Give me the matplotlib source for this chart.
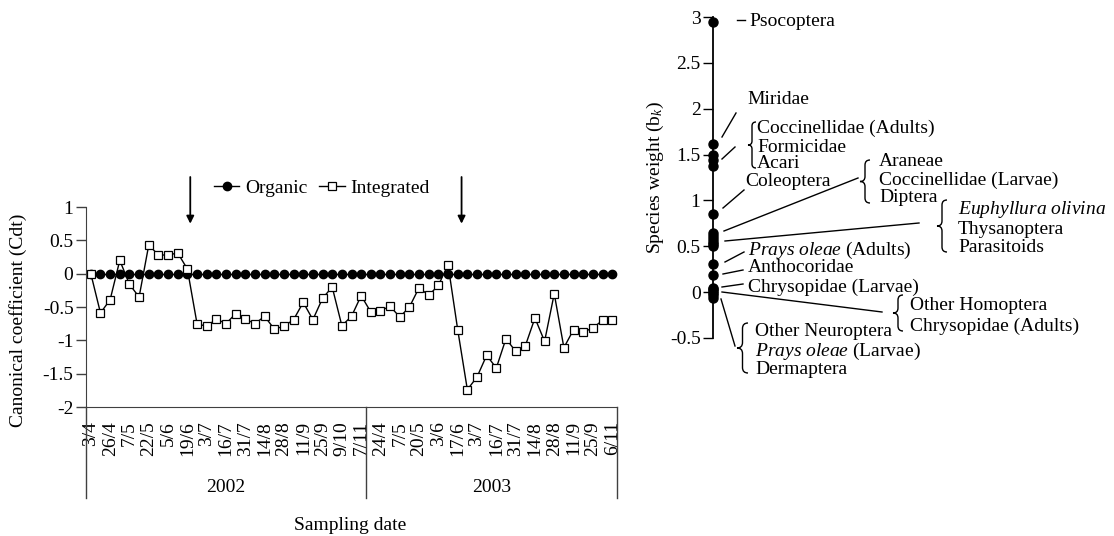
import numpy as np
import matplotlib
matplotlib.use("Agg")
import matplotlib.pyplot as plt
from matplotlib.path import Path
from matplotlib.patches import PathPatch

plt.rcParams["font.family"] = "Liberation Serif"
plt.rcParams["mathtext.fontset"] = "custom"
plt.rcParams["mathtext.rm"] = "Liberation Serif"
plt.rcParams["mathtext.it"] = "Liberation Serif:italic"
plt.rcParams["font.size"] = 14
plt.rcParams["axes.unicode_minus"] = False

# sampling dates printed on the axis (every second sample)
labels_2002 = ["3/4", "26/4", "7/5", "22/5", "5/6", "19/6", "3/7", "16/7", "31/7",
               "14/8", "28/8", "11/9", "25/9", "9/10", "7/11"]
labels_2003 = ["24/4", "7/5", "20/5", "3/6", "17/6", "3/7", "16/7", "31/7", "14/8",
               "28/8", "11/9", "25/9", "6/11"]
years = ["2002", "2003"]
n_2002 = 29
n_2003 = 26

integrated_2002 = [0.0, -0.59, -0.39, 0.20, -0.16, -0.35, 0.43, 0.28, 0.28, 0.31,
                   0.07, -0.75, -0.79, -0.68, -0.75, -0.60, -0.68, -0.75, -0.64, -0.83,
                   -0.79, -0.69, -0.43, -0.69, -0.37, -0.20, -0.78, -0.64, -0.33]
integrated_2003 = [-0.575, -0.555, -0.49, -0.65, -0.50, -0.21, -0.325, -0.175, 0.135, -0.84,
                   -1.74, -1.55, -1.225, -1.415, -0.975, -1.165, -1.085, -0.665, -1.015, -0.30,
                   -1.11, -0.84, -0.875, -0.815, -0.70, -0.69]
integrated = integrated_2002 + integrated_2003
organic = [0.0] * (n_2002 + n_2003)

# sample positions marked with an arrow
arrow_at = [10.3, 38.4]

# species weights b_k
species = ["Psocoptera", "Miridae", "Coccinellidae (Adults)", "Formicidae", "Acari",
           "Coleoptera", "Araneae", "Coccinellidae (Larvae)", "Diptera",
           "Euphyllura olivina", "Thysanoptera", "Parasitoids", "Prays oleae (Adults)",
           "Anthocoridae", "Chrysopidae (Larvae)", "Other Homoptera",
           "Chrysopidae (Adults)", "Other Neuroptera", "Prays oleae (Larvae)", "Dermaptera"]
weights = [2.95, 1.62, 1.49, 1.44, 1.37, 0.85, 0.64, 0.61, 0.58, 0.55, 0.53, 0.50,
           0.31, 0.19, 0.05, 0.03, 0.01, -0.01, -0.03, -0.06]

W, H = 1114, 536
fig = plt.figure(figsize=(W / 100, H / 100), dpi=100)
axis_col = "#404040"

# ---- left panel: canonical coefficients ----
ax = fig.add_axes([86 / W, 1 - 407 / H, 531 / W, 200 / H])
x = np.arange(n_2002 + n_2003)
ax.plot(x, organic, "-o", color="black", lw=1, ms=6, label="Organic")
ax.plot(x, integrated, "-s", color="black", lw=1, ms=5.5, mfc="white", mew=0.9,
        label="Integrated")
ax.set_xlim(-0.5, n_2002 + n_2003 - 0.5)
ax.set_ylim(-2, 1)
ax.set_yticks(np.arange(-2, 1.01, 0.5))
ax.set_yticklabels([f"{v:g}" for v in np.arange(-2, 1.01, 0.5)])
ax.set_xticks(x[::2])
ax.set_xticklabels(labels_2002 + labels_2003, rotation=90)
ax.tick_params(axis="x", length=0, pad=10)
ax.tick_params(axis="y", length=7, width=1, color=axis_col, pad=2)
for s in ["top", "right"]:
    ax.spines[s].set_visible(False)
for s in ["left", "bottom"]:
    ax.spines[s].set_color(axis_col)

# year group dividers below the axis
for xd in [-0.5, n_2002 - 0.5, n_2002 + n_2003 - 0.5]:
    ax.plot([xd, xd], [0, -0.455], transform=ax.get_xaxis_transform(),
            clip_on=False, color=axis_col, lw=1)
ax.text((n_2002 - 1) / 2, -0.40, years[0], transform=ax.get_xaxis_transform(),
        ha="center", va="center")
ax.text(n_2002 + (n_2003 - 1) / 2, -0.40, years[1], transform=ax.get_xaxis_transform(),
        ha="center", va="center")

for xa in arrow_at:
    ax.annotate("", xy=(xa, 0.75), xytext=(xa, 1.45), annotation_clip=False,
                arrowprops=dict(arrowstyle="-|>", color="black", lw=1.3,
                                mutation_scale=11, shrinkA=0, shrinkB=0))

ax.legend(loc="center", bbox_to_anchor=(322 / W, 1 - 188 / H),
          bbox_transform=fig.transFigure, ncol=2, frameon=False,
          handlelength=1.3, columnspacing=0.6, handletextpad=0.3)

fig.text(350 / W, 1 - 525 / H, "Sampling date", ha="center", va="center")
fig.text(18 / W, 1 - 320 / H, "Canonical coefficient (Cdt)", rotation=90,
         ha="center", va="center")

# ---- right panel: species weights ----
rx = fig.add_axes([693 / W, 1 - 338 / H, 40 / W, 321 / H])
rx.plot([0] * len(weights), weights, "o", color="black", ms=6.5, clip_on=False)
rx.set_xlim(-1, 1)
rx.set_ylim(-0.5, 3)
rx.set_yticks(np.arange(-0.5, 3.01, 0.5))
rx.set_yticklabels([f"{v:g}" for v in np.arange(-0.5, 3.01, 0.5)])
rx.set_xticks([])
rx.spines["left"].set_position(("data", 0))
rx.spines["left"].set_color("black")
rx.spines["left"].set_linewidth(1.3)
for s in ["top", "right", "bottom"]:
    rx.spines[s].set_visible(False)
rx.patch.set_visible(False)
rx.tick_params(axis="y", length=7, width=1, pad=2)
fig.text(655 / W, 1 - 177 / H, "Species weight (b$_k$)", rotation=90,
         ha="center", va="center")

# annotation layer in pixel coordinates
ann = fig.add_axes([0, 0, 1, 1])
ann.set_xlim(0, W)
ann.set_ylim(H, 0)
ann.axis("off")


def brace(x_tip, y_top, y_bot, w):
    xm = x_tip + w / 2
    ym = (y_top + y_bot) / 2
    r = min(w / 2, (y_bot - y_top) / 6)
    verts = [(x_tip + w, y_top), (xm, y_top), (xm, y_top + r),
             (xm, ym - r), (xm, ym), (x_tip, ym),
             (xm, ym), (xm, ym + r),
             (xm, y_bot - r), (xm, y_bot), (x_tip + w, y_bot)]
    codes = [Path.MOVETO, Path.CURVE3, Path.CURVE3,
             Path.LINETO, Path.CURVE3, Path.CURVE3,
             Path.CURVE3, Path.CURVE3,
             Path.LINETO, Path.CURVE3, Path.CURVE3]
    ann.add_patch(PathPatch(Path(verts, codes), fill=False, lw=1, color="black"))


def leader(x0, y0, x1, y1):
    ann.plot([x0, x1], [y0, y1], color="black", lw=1)


def label(xt, yt, s):
    ann.text(xt, yt, s, ha="left", va="center")


leader(737, 20, 745, 20)
label(749, 21, "Psocoptera")
leader(722, 137, 736, 113)
label(747, 100, "Miridae")
leader(722, 159, 735, 147)
brace(748, 122, 168, 8)
label(757, 128, species[2])
label(757, 147, species[3])
label(757, 164, species[4])
leader(723, 208, 744, 190)
label(745, 182, species[5])
leader(724, 231, 858, 178)
brace(860, 160, 203, 10)
label(879, 161, species[6])
label(879, 180, species[7])
label(879, 198, species[8])
leader(725, 241, 919, 223)
brace(937, 200, 252, 10)
label(958, 209, r"$\mathit{Euphyllura\ olivina}$")
label(958, 229, species[10])
label(958, 247, species[11])
leader(725, 262, 744, 252)
label(748, 250, r"$\mathit{Prays\ oleae}$ (Adults)")
leader(723, 274, 743, 270)
label(748, 268, species[13])
leader(722, 287, 743, 284)
label(748, 287, species[14])
leader(722, 292, 882, 312)
brace(893, 295, 331, 10)
label(910, 306, species[15])
label(910, 326, species[16])
leader(721, 299, 735, 346)
brace(737, 323, 373, 11)
label(755, 332, species[17])
label(755, 351, r"$\mathit{Prays\ oleae}$ (Larvae)")
label(755, 370, species[19])

fig.savefig("out.png", dpi=100)
